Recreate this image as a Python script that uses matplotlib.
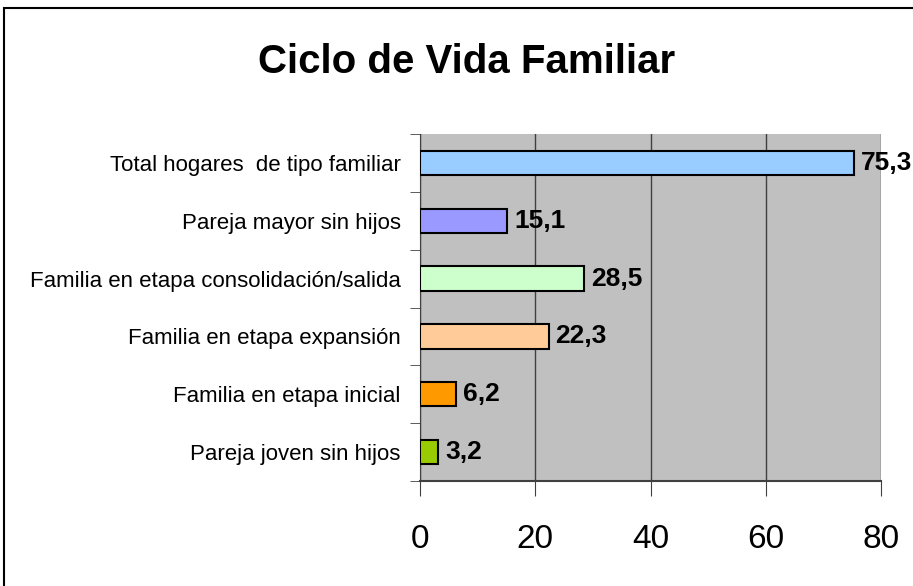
import matplotlib.pyplot as plt
import numpy as np
from matplotlib.patches import Rectangle

plt.rcParams['font.family'] = ['Liberation Sans Narrow', 'Liberation Sans', 'DejaVu Sans']

categories = ["Pareja joven sin hijos", "Familia en etapa inicial",
              "Familia en etapa expansión", "Familia en etapa consolidación/salida",
              "Pareja mayor sin hijos", "Total hogares  de tipo familiar"]
values = [3.2, 6.2, 22.3, 28.5, 15.1, 75.3]
colors = ["#99CC00", "#FF9900", "#FFCC99", "#CCFFCC", "#9999FF", "#99CCFF"]
xticks = [0, 20, 40, 60, 80]

fig = plt.figure(figsize=(9.13, 5.86), dpi=100)
# outer chart border
fig.patches.append(Rectangle((4 / 913, -0.1), 1.1, 1 - 8 / 586 + 0.1, transform=fig.transFigure,
                             fill=False, edgecolor="black", linewidth=1.5))

ax = fig.add_axes([420 / 913, 1 - 481 / 586, 461 / 913, 347 / 586])
ax.set_facecolor("#C0C0C0")
y = np.arange(len(categories))
ax.barh(y, values, height=0.42, color=colors, edgecolor="black", linewidth=1.5, zorder=3)
for yi, v in zip(y, values):
    ax.text(v + 1.2, yi, f"{v:.1f}".replace(".", ","), va="center", ha="left",
            fontsize=19, fontweight="bold", zorder=4, clip_on=False)

ax.set_xlim(0, 80)
ax.set_ylim(-0.5, len(categories) - 0.5)
ax.set_xticks(xticks)
ax.set_xticklabels([str(t) for t in xticks], fontsize=24)
ax.xaxis.grid(True, color="#404040", linewidth=1, zorder=1)
ax.set_yticks(y)
ax.set_yticklabels(categories, fontsize=16)
ax.set_yticks(np.arange(len(categories) + 1) - 0.5, minor=True)
ax.tick_params(axis="y", which="major", length=0, pad=14)
ax.tick_params(axis="y", which="minor", length=7, color="#404040")
ax.tick_params(axis="x", length=11, color="#404040", pad=20)
for s in ["top", "right"]:
    ax.spines[s].set_visible(False)
ax.spines["left"].set_color("#404040")
ax.spines["bottom"].set_color("#404040")
ax.spines["bottom"].set_linewidth(1.5)

fig.text(467 / 913, 1 - 62 / 586, "Ciclo de Vida Familiar", ha="center", va="center",
         fontsize=29, fontweight="bold")

fig.savefig("out.png", dpi=100)
